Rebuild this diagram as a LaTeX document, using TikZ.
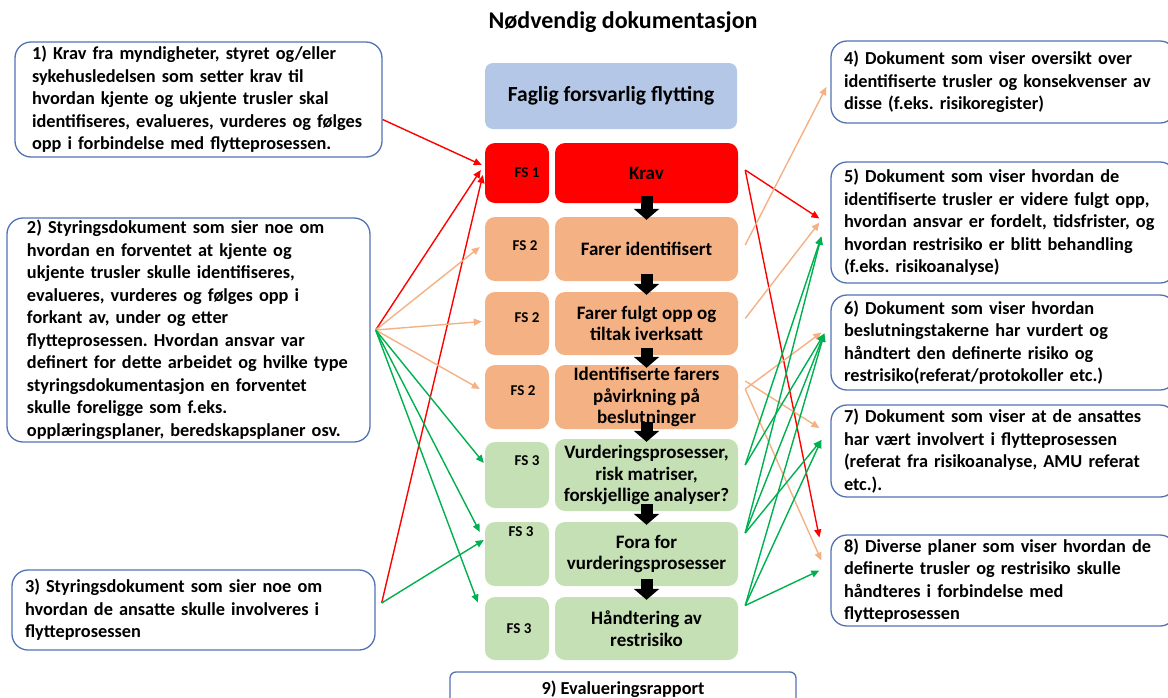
\documentclass[tikz,border=0pt]{standalone}
\usepackage{fontspec}
\setmainfont{Carlito}
\usetikzlibrary{arrows.meta}
\definecolor{boxblue}{RGB}{82,114,180}
\definecolor{titleblue}{RGB}{180,199,231}
\definecolor{fsred}{RGB}{255,0,0}
\definecolor{fsorange}{RGB}{244,177,131}
\definecolor{fsgreen}{RGB}{197,224,180}
\definecolor{linkgreen}{RGB}{0,176,80}
\definecolor{linkorange}{RGB}{244,177,131}
\frenchspacing
\newcommand{\doctext}{\bfseries\fontsize{18.3}{22.5}\selectfont}
\newcommand{\proctext}{\bfseries\fontsize{19}{21.5}\selectfont}
\tikzset{
    doc-box/.style = {draw=boxblue, line width=1.3pt, rounded corners=16pt, inner sep=0pt, align=left, font=\doctext},
    head-box/.style = {fill=titleblue, rounded corners=8pt, minimum width=252pt, minimum height=66pt, font=\bfseries\fontsize{21.5}{25}\selectfont},
    fs-box/.style = {rounded corners=10pt, minimum width=64pt},
    fs-text/.style = {font=\bfseries\fontsize{15}{18}\selectfont},
    process-box/.style = {rounded corners=10pt, minimum width=183pt, align=center, inner sep=0pt, font=\proctext},
    flow-arrow/.style = {line width=12pt, -{Triangle[length=11pt,width=25pt]}},
    link/.style = {line width=1.4pt, -{Triangle[length=8pt,width=7pt]}},
}

\begin{document}
\begin{tikzpicture}[x=1pt,y=-1pt]
\useasboundingbox (0,0) rectangle (1168,697);

\node[font=\bfseries\fontsize{24}{28}\selectfont] (title) at (623,22) {Nødvendig dokumentasjon};
\node[head-box] (head) at (611,96) {Faglig forsvarlig flytting};

% the process column
\node[fs-box, fill=fsred, minimum height=60pt] (fs1) at (517,173) {};
\node[fs-box, fill=fsorange, minimum height=64pt] (fs2) at (517,249) {};
\node[fs-box, fill=fsorange, minimum height=63pt] (fs3) at (517,323.5) {};
\node[fs-box, fill=fsorange, minimum height=64pt] (fs4) at (517,397) {};
\node[fs-box, fill=fsgreen, minimum height=66pt] (fs5) at (517,475) {};
\node[fs-box, fill=fsgreen, minimum height=64pt] (fs6) at (517,554) {};
\node[fs-box, fill=fsgreen, minimum height=63pt] (fs7) at (517,628.5) {};

\node[fs-text] (fs1-label) at ([xshift=10pt]fs1.center) {FS 1};
\node[fs-text] (fs2-label) at ([xshift=8pt,yshift=3pt]fs2.center) {FS 2};
\node[fs-text] (fs3-label) at ([xshift=10pt,yshift=6pt]fs3.center) {FS 2};
\node[fs-text] (fs4-label) at ([xshift=6pt,yshift=6pt]fs4.center) {FS 2};
\node[fs-text] (fs5-label) at ([xshift=10pt,yshift=14pt]fs5.center) {FS 3};
\node[fs-text] (fs6-label) at ([xshift=4pt,yshift=22pt]fs6.center) {FS 3};
\node[fs-text] (fs7-label) at ([xshift=2pt]fs7.center) {FS 3};

\node[process-box, fill=fsred, minimum height=60pt] (r1) at (646.5,173) {Krav};
\node[process-box, fill=fsorange, minimum height=64pt] (r2) at (646.5,249) {Farer identifisert};
\node[process-box, fill=fsorange, minimum height=63pt] (r3) at (646.5,323.5) {Farer fulgt opp og\\tiltak iverksatt};
\node[process-box, fill=fsorange, minimum height=64pt] (r4) at (646.5,397) {Identifiserte farers\\påvirkning på\\beslutninger};
\node[process-box, fill=fsgreen, minimum height=72pt] (r5) at (646.5,475) {Vurderingsprosesser,\\risk matriser,\\forskjellige analyser?};
\node[process-box, fill=fsgreen, minimum height=64pt] (r6) at (646.5,554) {Fora for\\vurderingsprosesser};
\node[process-box, fill=fsgreen, minimum height=63pt] (r7) at (646.5,628.5) {Håndtering av\\restrisiko};

\foreach \a/\b in {r1/r2,r2/r3,r3/r4,r4/r5,r5/r6,r6/r7}
    \draw[flow-arrow] ([yshift=7pt]\a.south) -- ([yshift=-3pt]\b.north);

% documents on the left
\node[doc-box, minimum width=367pt, minimum height=115pt, text width=333pt] (b1) at (198.5,99.5) {1) Krav fra myndigheter, styret og/eller\\sykehusledelsen som setter krav til\\hvordan kjente og ukjente trusler skal\\identifiseres, evalueres, vurderes og følges\\opp i forbindelse med flytteprosessen.};
\node[doc-box, minimum width=363pt, minimum height=224pt, text width=323pt] (b2) at (188.5,330) {2) Styringsdokument som sier noe om\\hvordan en forventet at kjente og\\ukjente trusler skulle identifiseres,\\evalueres, vurderes og følges opp i\\forkant av, under og etter\\flytteprosessen. Hvordan ansvar var\\definert for dette arbeidet og hvilke type\\styringsdokumentasjon en forventet\\skulle foreligge som f.eks.\\opplæringsplaner, beredskapsplaner osv.};
\node[doc-box, minimum width=363pt, minimum height=80pt, text width=337pt] (b3) at (193.5,610) {3) Styringsdokument som sier noe om\\hvordan de ansatte skulle involveres i\\flytteprosessen};

% documents on the right
\node[doc-box, minimum width=345pt, minimum height=82pt, text width=319pt] (b4) at (1003.5,82) {4) Dokument som viser oversikt over\\identifiserte trusler og konsekvenser av\\disse (f.eks. risikoregister)};
\node[doc-box, minimum width=345pt, minimum height=121pt, text width=319pt] (b5) at (1003.5,222.5) {5) Dokument som viser hvordan de\\identifiserte trusler er videre fulgt opp,\\hvordan ansvar er fordelt, tidsfrister, og\\hvordan restrisiko er blitt behandling\\(f.eks. risikoanalyse)};
\node[doc-box, minimum width=345pt, minimum height=95pt, text width=319pt] (b6) at (1003.5,342.5) {6) Dokument som viser hvordan\\beslutningstakerne har vurdert og\\håndtert den definerte risiko og\\restrisiko(referat/protokoller etc.)};
\node[doc-box, minimum width=345pt, minimum height=92pt, text width=319pt] (b7) at (1003.5,451) {7) Dokument som viser at de ansattes\\har vært involvert i flytteprosessen\\(referat fra risikoanalyse, AMU referat\\etc.).};
\node[doc-box, minimum width=345pt, minimum height=91pt, text width=319pt] (b8) at (1003.5,580.5) {8) Diverse planer som viser hvordan de\\definerte trusler og restrisiko skulle\\håndteres i forbindelse med\\flytteprosessen};

\node[doc-box, rounded corners=6pt, minimum width=346pt, minimum height=34pt, align=center] (b9) at (623,689) {9) Evalueringsrapport};

% links from the left
\coordinate (b2-out) at ([xshift=5pt]b2.east);
\coordinate (b3-out) at ([xshift=6pt,yshift=7pt]b3.east);
\draw[link, red] ([yshift=-20pt]b1.east) -- ([xshift=-3pt,yshift=8pt]fs1.west);
\draw[link, red] (b2-out) -- ([xshift=-4pt,yshift=3pt]fs1.west);
\draw[link, red] (b3-out) -- ([xshift=-2pt,yshift=-2pt]fs1.west);
\draw[link, linkorange] (b2-out) -- ([xshift=-5pt,yshift=2pt]fs2.west);
\draw[link, linkorange] (b2-out) -- ([xshift=-3pt,yshift=2pt]fs3.west);
\draw[link, linkorange] (b2-out) -- ([xshift=-5pt,yshift=8pt]fs4.west);
\draw[link, linkgreen] (b2-out) -- ([xshift=-1pt,yshift=12pt]fs5.west);
\draw[link, linkgreen] (b2-out) -- ([xshift=-5pt,yshift=22pt]fs6.west);
\draw[link, linkgreen] (b2-out) -- ([xshift=-7pt,yshift=26pt]fs7.west);
\draw[link, linkgreen] (b3-out) -- ([xshift=-1pt,yshift=14pt]fs6.west);

% links to the right
\coordinate (r1-out) at ([xshift=7pt,yshift=3pt]r1.east);
\coordinate (r2-out) at ([xshift=7pt,yshift=4pt]r2.east);
\coordinate (r3-out) at ([xshift=7pt,yshift=5pt]r3.east);
\coordinate (r4-out) at ([xshift=7pt,yshift=16pt]r4.east);
\coordinate (r4-low) at ([xshift=7pt,yshift=8pt]r4.east);
\coordinate (r5-out) at ([xshift=7pt,yshift=10pt]r5.east);
\coordinate (r6-out) at ([xshift=7pt,yshift=21pt]r6.east);
\coordinate (r7-out) at ([xshift=7pt,yshift=23pt]r7.east);
\draw[link, red] (r1-out) -- ([xshift=-11pt,yshift=4pt]b5.west);
\draw[link, red] (r1-out) -- ([xshift=-11pt,yshift=43pt]b8.west);
\draw[link, linkorange] (r2-out) -- ([xshift=-4pt,yshift=-5pt]b4.west);
\draw[link, linkorange] (r3-out) -- ([xshift=-11pt]b5.west);
\draw[link, linkorange] (r4-out) -- ([xshift=-11pt,yshift=23pt]b7.west);
\draw[link, linkorange] (r4-low) -- ([xshift=-9pt,yshift=10pt]b6.west);
\draw[link, linkorange] (r4-low) -- ([xshift=-9pt,yshift=20pt]b8.west);
\foreach \s/\t in {r5-out/b5, r6-out/b5}
    \draw[link, linkgreen] (\s) -- ([xshift=-9pt,yshift=-14pt]\t.west);
\foreach \s in {r5-out, r6-out, r7-out}
    \draw[link, linkgreen] (\s) -- ([xshift=-6pt,yshift=9pt]b6.west);
\foreach \s in {r6-out, r7-out}
    \draw[link, linkgreen] (\s) -- ([xshift=-9pt,yshift=11pt]b7.west);
\draw[link, linkgreen] (r7-out) -- ([xshift=-11pt,yshift=10pt]b8.west);
\end{tikzpicture}
\end{document}
